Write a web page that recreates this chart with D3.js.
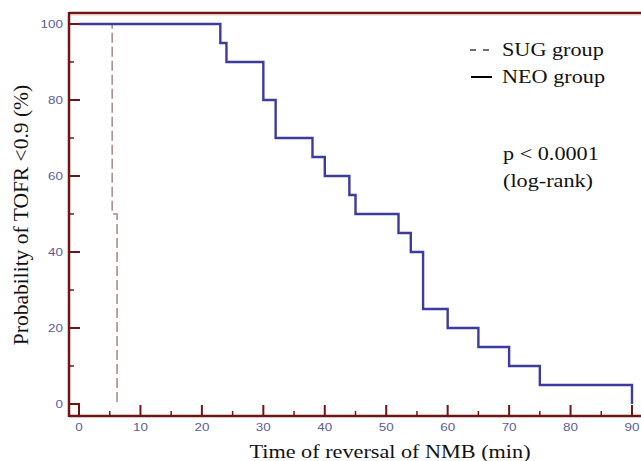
<!DOCTYPE html>
<html><head><meta charset="utf-8">
<script src="https://cdn.jsdelivr.net/npm/d3@7"></script>
<style>body{margin:0;background:#fff}svg{display:block}</style>
</head><body>
<svg id="c" width="641" height="461"></svg>
<script>
// NEO group Kaplan-Meier steps: [time, survival %] after each event
const neoTimes = [0, 23, 24, 30, 32, 38, 40, 44, 45, 52, 54, 56, 60, 65, 70, 75, 90];
const neoValues = [100, 95, 90, 80, 70, 65, 60, 55, 50, 45, 40, 25, 20, 15, 10, 5, 0];
const sugTimes = [0, 5.4, 6.2];
const sugValues = [100, 50, 0];
const xTicks = [0, 10, 20, 30, 40, 50, 60, 70, 80, 90];
const yTicks = [0, 20, 40, 60, 80, 100];
const legendLabels = ["SUG group", "NEO group"];
const pText = ["p < 0.0001", "(log-rank)"];

(function () {
const svg = d3.select("#c");
const axisCol = "#701414", tickTxt = "#5c5c9c", neoCol = "#3b3ba0", sugCol = "#b48c8c";
const leftX = 69, bottomY = 416, topY = 13;
const sx = 1.17; // horizontal stretch of text in the original
const x = d3.scaleLinear().domain([0, 90]).range([79, 632]);
const y = d3.scaleLinear().domain([0, 100]).range([404, 24]);

// frame
svg.append("line").attr("x1", leftX).attr("x2", 641).attr("y1", topY).attr("y2", topY)
  .attr("stroke", axisCol).attr("stroke-width", 2.5);
svg.append("line").attr("x1", leftX).attr("x2", 641).attr("y1", topY+2).attr("y2", topY+2)
  .attr("stroke", "#e8caca").attr("stroke-width", 1);
svg.append("line").attr("x1", leftX).attr("x2", leftX).attr("y1", topY-1).attr("y2", bottomY+1)
  .attr("stroke", axisCol).attr("stroke-width", 2.5);
svg.append("line").attr("x1", leftX).attr("x2", 641).attr("y1", bottomY).attr("y2", bottomY)
  .attr("stroke", axisCol).attr("stroke-width", 2.5);

// x ticks
const xMinor = d3.range(5, 90, 10);
svg.append("g").selectAll("line").data(xTicks).join("line")
  .attr("x1", d => x(d)).attr("x2", d => x(d)).attr("y1", bottomY).attr("y2", bottomY - 11)
  .attr("stroke", axisCol).attr("stroke-width", 2);
svg.append("g").selectAll("line").data(xMinor).join("line")
  .attr("x1", d => x(d)).attr("x2", d => x(d)).attr("y1", bottomY).attr("y2", bottomY - 5)
  .attr("stroke", axisCol).attr("stroke-width", 1.5);
svg.append("g").selectAll("text").data(xTicks).join("text")
  .attr("transform", d => `translate(${x(d)},431) scale(${sx},1)`).attr("text-anchor", "middle")
  .attr("font-family", "Liberation Sans, Arial, sans-serif").attr("font-size", 11.5)
  .attr("fill", tickTxt).text(d => d);

// y ticks
const yMinor = d3.range(10, 100, 20);
svg.append("g").selectAll("line").data(yTicks).join("line")
  .attr("x1", leftX).attr("x2", leftX + 11).attr("y1", d => y(d)).attr("y2", d => y(d))
  .attr("stroke", axisCol).attr("stroke-width", 2);
svg.append("g").selectAll("line").data(yMinor).join("line")
  .attr("x1", leftX).attr("x2", leftX + 5).attr("y1", d => y(d)).attr("y2", d => y(d))
  .attr("stroke", axisCol).attr("stroke-width", 1.5);
svg.append("g").selectAll("text").data(yTicks).join("text")
  .attr("transform", d => `translate(63,${y(d) + 4.2}) scale(${sx},1)`).attr("text-anchor", "end")
  .attr("font-family", "Liberation Sans, Arial, sans-serif").attr("font-size", 11.5)
  .attr("fill", tickTxt).text(d => d);

// curves
const line = d3.line().x(d => x(d[0])).y(d => y(d[1])).curve(d3.curveStepAfter);
const sugPts = sugTimes.map((t, i) => [t, sugValues[i]]);
svg.append("path").datum(sugPts).attr("d", line).attr("fill", "none")
  .attr("stroke", sugCol).attr("stroke-width", 1.6).attr("stroke-dasharray", "10,4");
const neoPts = neoTimes.map((t, i) => [t, neoValues[i]]);
svg.append("path").datum(neoPts).attr("d", line).attr("fill", "none")
  .attr("stroke", neoCol).attr("stroke-width", 2.4);

// legend
const serif = "Liberation Serif, Times New Roman, serif";
svg.append("line").attr("x1", 470).attr("x2", 476).attr("y1", 50).attr("y2", 50).attr("stroke", "#222").attr("stroke-width", 1.3);
svg.append("line").attr("x1", 483).attr("x2", 489).attr("y1", 50).attr("y2", 50).attr("stroke", "#222").attr("stroke-width", 1.3);
svg.append("line").attr("x1", 471).attr("x2", 492).attr("y1", 77).attr("y2", 77).attr("stroke", "#000").attr("stroke-width", 2);
svg.append("g").selectAll("text").data(legendLabels).join("text")
  .attr("transform", (d, i) => `translate(502,${56 + i * 27}) scale(${sx},1)`)
  .attr("font-family", serif).attr("font-size", 19).attr("fill", "#111").text(d => d);
svg.append("g").selectAll("text").data(pText).join("text")
  .attr("transform", (d, i) => `translate(503,${160 + i * 27}) scale(${sx},1)`)
  .attr("font-family", serif).attr("font-size", 19).attr("fill", "#111").text(d => d);

// axis titles
svg.append("text").attr("transform", `translate(390,458) scale(${sx},1)`).attr("text-anchor", "middle")
  .attr("font-family", serif).attr("font-size", 19).attr("fill", "#111")
  .text("Time of reversal of NMB (min)");
svg.append("text").attr("transform", "translate(28,215) rotate(-90)").attr("text-anchor", "middle")
  .attr("font-family", serif).attr("font-size", 21.5).attr("fill", "#111")
  .text("Probability of TOFR <0.9 (%)");
})();
</script>
</body></html>
